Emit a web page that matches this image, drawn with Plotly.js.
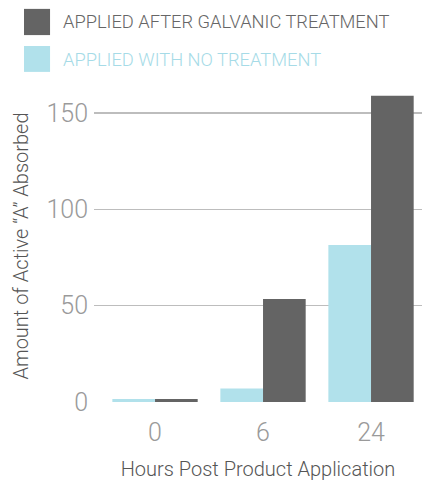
<!DOCTYPE html>
<html>
<head>
<meta charset="utf-8">
<script src="https://cdn.plot.ly/plotly-3.0.1.min.js"></script>
<style>html,body{margin:0;padding:0;background:#fff;}#chart{width:422px;height:481px;}</style>
</head>
<body>
<div id="chart"></div>
<script>
const categories = ['0', '6', '24'];
const noTreatment = [1.5, 7, 81.5];
const galvanic = [1.5, 53.5, 159];
const seriesNames = ['APPLIED AFTER GALVANIC TREATMENT', 'APPLIED WITH NO TREATMENT'];
const yTicks = [0, 50, 100, 150];

const DARK = '#646464';
const LIGHT = '#b1e1eb';
const FONT = 'Roboto, "Liberation Sans", sans-serif';

const traces = [
  {type: 'bar', x: categories, y: noTreatment, name: seriesNames[1], marker: {color: LIGHT}, showlegend: false, hoverinfo: 'none'},
  {type: 'bar', x: categories, y: galvanic, name: seriesNames[0], marker: {color: DARK}, showlegend: false, hoverinfo: 'none'}
];

const layout = {
  width: 422, height: 481,
  margin: {l: 94, r: 0, t: 90, b: 79},
  paper_bgcolor: '#fff', plot_bgcolor: '#fff',
  barmode: 'group', bargap: 0.21, bargroupgap: 0,
  showlegend: false,
  font: {family: FONT, color: '#999'},
  xaxis: {
    type: 'category', range: [-0.565, 2.472],
    showgrid: false, zeroline: false, showline: false, ticks: '',
    ticklabelstandoff: 13,
    tickfont: {size: 25, color: '#9a9a9a', family: FONT, weight: 300},
    title: {text: 'Hours Post Product Application', font: {size: 20, color: '#555', family: FONT, weight: 300}, standoff: 15}
  },
  yaxis: {
    range: [0, 162], tickvals: yTicks, ticktext: yTicks.map(String),
    showgrid: true, gridcolor: '#bdbdbd', gridwidth: 1.5,
    zeroline: false, showline: false, ticks: '', ticklabelstandoff: 5,
    layer: 'above traces',
    tickfont: {size: 25, color: '#9a9a9a', family: FONT, weight: 300},
    title: {text: 'Amount of Active “A” Absorbed', font: {size: 20, color: '#555', family: FONT, weight: 300}, standoff: 12}
  },
  shapes: [
    {type: 'rect', xref: 'paper', yref: 'paper', x0: -0.2134, x1: -0.134, y0: 1.176, y1: 1.26, fillcolor: DARK, line: {width: 0}},
    {type: 'rect', xref: 'paper', yref: 'paper', x0: -0.2134, x1: -0.134, y0: 1.058, y1: 1.141, fillcolor: LIGHT, line: {width: 0}}
  ],
  annotations: [
    {xref: 'paper', yref: 'paper', x: -0.1, y: 1.218, xanchor: 'left', yanchor: 'middle', showarrow: false,
     text: seriesNames[0], font: {size: 18.3, color: '#666', family: FONT, weight: 300}},
    {xref: 'paper', yref: 'paper', x: -0.1, y: 1.099, xanchor: 'left', yanchor: 'middle', showarrow: false,
     text: seriesNames[1], font: {size: 18.3, color: '#a6dbe7', family: FONT, weight: 300}}
  ]
};

Plotly.newPlot('chart', traces, layout, {displayModeBar: false, staticPlot: true});
</script>
</body>
</html>
